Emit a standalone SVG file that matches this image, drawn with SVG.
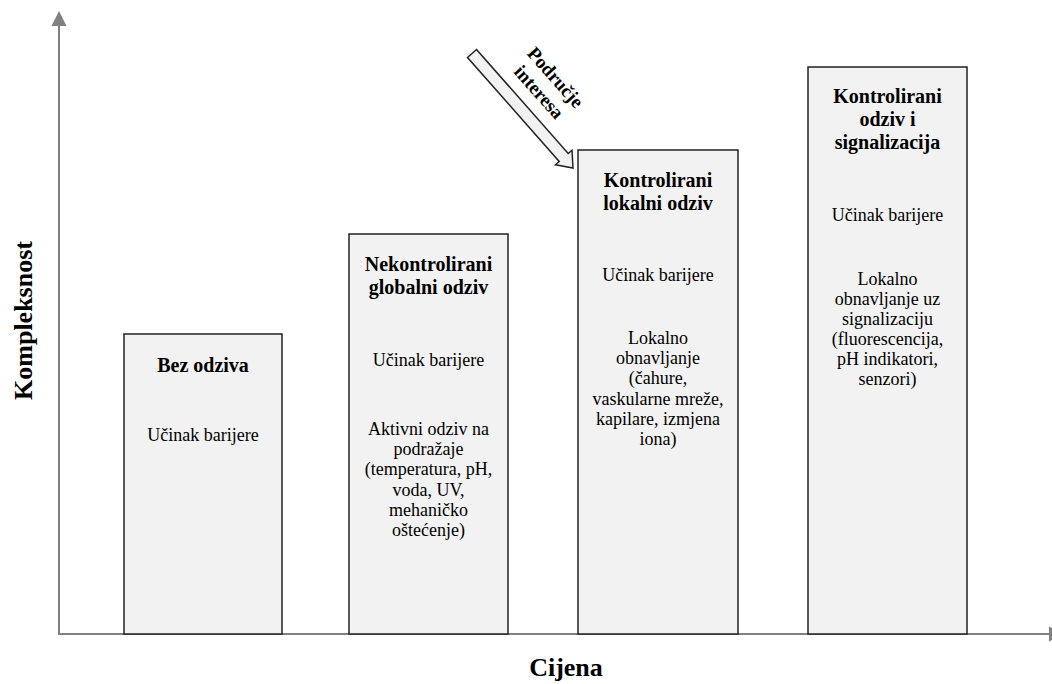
<svg xmlns="http://www.w3.org/2000/svg" width="1052" height="684" viewBox="0 0 1052 684" font-family="'Liberation Serif', 'Times New Roman', Times, serif">
<style>
.box{fill:#f2f2f2;stroke:#222;stroke-width:1.5}
.t{fill:#000;text-anchor:middle}
.h{font-size:20px;font-weight:bold}
.b{font-size:18px}
.ax{font-size:26px;font-weight:bold;text-anchor:middle}
.axis{stroke:#808080;stroke-width:2;fill:none}
</style>
<rect width="1052" height="684" fill="#fff"/>
<g id="axes">
<line class="axis" x1="59" y1="634" x2="59" y2="24"/>
<polygon points="59,11 51.5,26 66.5,26" fill="#808080"/>
<line class="axis" x1="58" y1="634" x2="1050" y2="634"/>
<polygon points="1049,626.5 1049,641.5 1064,634" fill="#808080"/>
<text class="ax" font-family="Liberation Serif" x="566" y="676">Cijena</text>
<text class="ax" font-family="Liberation Serif" transform="translate(32,320.5) rotate(-90)" x="0" y="0">Kompleksnost</text>
</g>
<g id="node1" font-family="Liberation Serif">
<rect class="box" x="124" y="334" width="158" height="300"/>
<text class="t h" x="203" y="372">Bez odziva</text>
<text class="t b" x="203" y="441">Učinak barijere</text>
</g>
<g id="node2" font-family="Liberation Serif">
<rect class="box" x="349" y="234" width="159" height="400"/>
<text class="t h" x="428.5" y="271">Nekontrolirani</text>
<text class="t h" x="428.5" y="294">globalni odziv</text>
<text class="t b" x="428.5" y="366">Učinak barijere</text>
<text class="t b" x="428.5" y="435">Aktivni odziv na</text>
<text class="t b" x="428.5" y="455.2">podražaje</text>
<text class="t b" x="428.5" y="475.4">(temperatura, pH,</text>
<text class="t b" x="428.5" y="495.6">voda, UV,</text>
<text class="t b" x="428.5" y="515.8">mehaničko</text>
<text class="t b" x="428.5" y="536">oštećenje)</text>
</g>
<g id="node3" font-family="Liberation Serif">
<rect class="box" x="578" y="150" width="160" height="484"/>
<text class="t h" x="658" y="187">Kontrolirani</text>
<text class="t h" x="658" y="210">lokalni odziv</text>
<text class="t b" x="658" y="281">Učinak barijere</text>
<text class="t b" x="658" y="344">Lokalno</text>
<text class="t b" x="658" y="364.2">obnavljanje</text>
<text class="t b" x="658" y="384.4">(čahure,</text>
<text class="t b" x="658" y="404.6">vaskularne mreže,</text>
<text class="t b" x="658" y="424.8">kapilare, izmjena</text>
<text class="t b" x="658" y="445">iona)</text>
</g>
<g id="node4" font-family="Liberation Serif">
<rect class="box" x="808" y="67" width="159" height="567"/>
<text class="t h" x="887.5" y="103">Kontrolirani</text>
<text class="t h" x="887.5" y="126">odziv i</text>
<text class="t h" x="887.5" y="149">signalizacija</text>
<text class="t b" x="887.5" y="221">Učinak barijere</text>
<text class="t b" x="887.5" y="285">Lokalno</text>
<text class="t b" x="887.5" y="305">obnavljanje uz</text>
<text class="t b" x="887.5" y="325">signalizaciju</text>
<text class="t b" x="887.5" y="345">(fluorescencija,</text>
<text class="t b" x="887.5" y="365">pH indikatori,</text>
<text class="t b" x="887.5" y="385">senzori)</text>
</g>
<g id="connectors">
<g id="interest-arrow" font-family="Liberation Serif">
<polygon points="476.5,49.5 568.2,153.5 572,150.2 573,168 555.5,164.8 559.2,161.5 467.5,57.5" fill="#f2f2f2" stroke="#222" stroke-width="1.5" stroke-linejoin="miter"/>
<g transform="translate(547,85) rotate(48.5)">
<text class="t" font-size="19" font-weight="bold" x="0" y="-5">Područje</text>
<text class="t" font-size="19" font-weight="bold" x="0" y="17">interesa</text>
</g>
</g>
</g>
</svg>
